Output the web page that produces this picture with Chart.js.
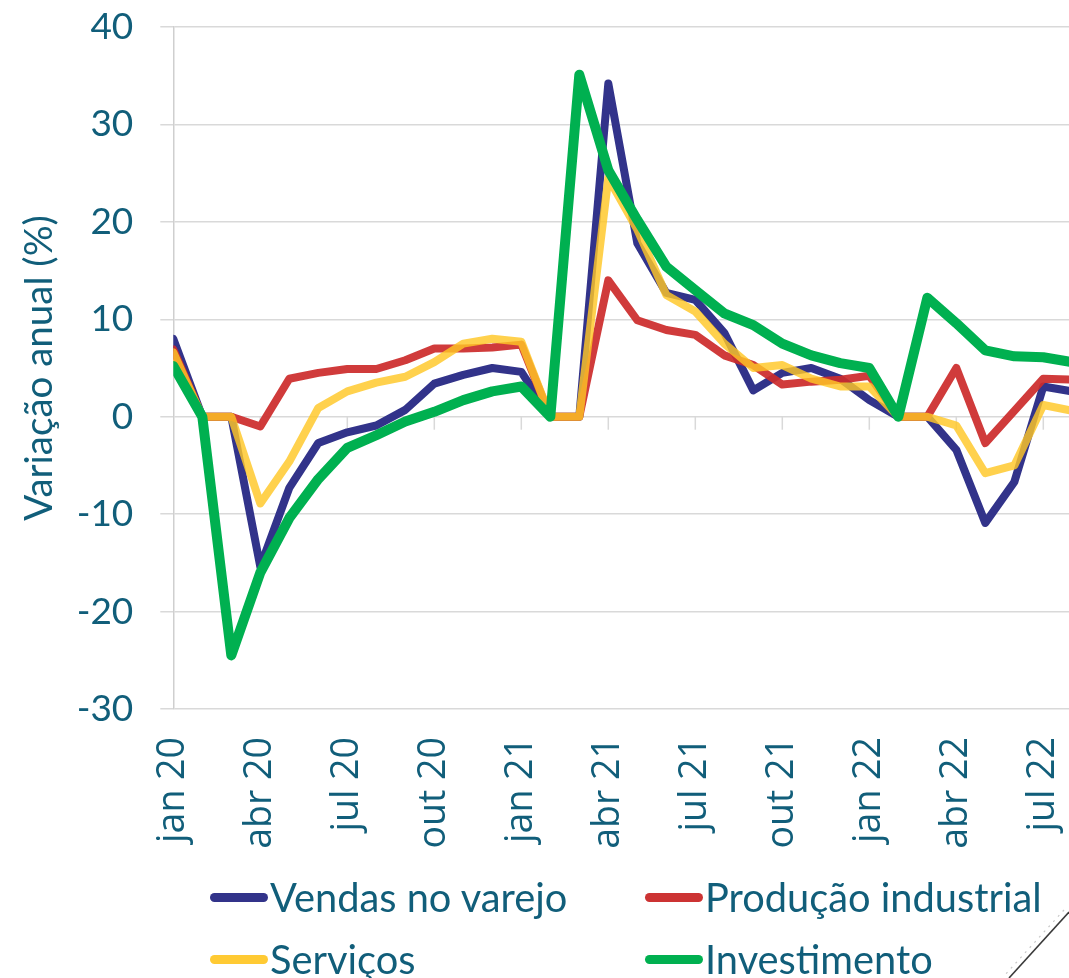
<!DOCTYPE html>
<html>
<head>
<meta charset="utf-8">
<script src="https://cdn.jsdelivr.net/npm/chart.js@4.4.1/dist/chart.umd.min.js"></script>
<style>
  html, body { margin: 0; padding: 0; background: #fff; overflow: hidden; }
  #wrap { position: relative; width: 1069px; height: 978px; overflow: hidden; }
  canvas { display: block; }
  .row { position: absolute; height: 40px; display: flex; align-items: center;
         font-family: Lato, "Open Sans", sans-serif; font-size: 39.8px; color: #115e7a;
         white-space: nowrap; line-height: 1; }
  .sw { display: inline-block; width: 58px; height: 9px; border-radius: 4.5px; margin-right: 2px; flex: none; }
  #deco { position: absolute; left: 990px; top: 900px; }
</style>
</head>
<body>
<div id="wrap">
  <canvas id="c" width="1069" height="978"></canvas>
  <div id="legend"></div>
  <svg id="deco" width="79" height="78" viewBox="0 0 79 78">
    <line x1="79" y1="12" x2="19" y2="78" stroke="#3a3a3a" stroke-width="1.6"/>
    <line x1="74" y1="10" x2="14" y2="76" stroke="#c8c8c8" stroke-width="1.2" stroke-dasharray="2 5"/>
  </svg>
</div>
<script>
// ---- data ----
const months = ['jan 20','fev 20','mar 20','abr 20','mai 20','jun 20','jul 20','ago 20','set 20','out 20','nov 20','dez 20',
                'jan 21','fev 21','mar 21','abr 21','mai 21','jun 21','jul 21','ago 21','set 21','out 21','nov 21','dez 21',
                'jan 22','fev 22','mar 22','abr 22','mai 22','jun 22','jul 22','ago 22'];
const vendas       = [8.0, 0, 0, -15.4, -7.3, -2.7, -1.6, -0.9, 0.7, 3.4, 4.3, 5.0, 4.6, 0, 0, 34.2, 17.8, 12.7, 12.0, 8.6, 2.7, 4.5, 5.0, 3.9, 1.7, 0, 0, -3.4, -10.9, -6.7, 3.1, 2.6];
const producao     = [6.9, 0, 0, -1.0, 3.9, 4.5, 4.9, 4.9, 5.8, 7.0, 7.0, 7.1, 7.4, 0, 0, 14.0, 9.9, 8.9, 8.4, 6.3, 5.3, 3.3, 3.6, 3.8, 4.2, 0, 0, 5.0, -2.7, 0.6, 3.9, 3.8];
const servicos     = [6.6, 0, 0, -8.9, -4.6, 0.9, 2.6, 3.5, 4.1, 5.6, 7.5, 8.0, 7.7, 0, 0, 24.5, 19.2, 12.5, 10.8, 7.5, 5.0, 5.3, 3.9, 3.1, 3.1, 0, 0, -0.9, -5.8, -5.0, 1.2, 0.6];
const investimento = [5.2, 0, -24.5, -16.0, -10.4, -6.4, -3.2, -1.9, -0.5, 0.5, 1.7, 2.6, 3.1, 0, 35.1, 25.3, 20.2, 15.4, 13.0, 10.6, 9.4, 7.5, 6.3, 5.5, 5.0, 0, 12.2, 9.6, 6.8, 6.2, 6.1, 5.6];
const seriesNames  = ['Vendas no varejo', 'Produção industrial', 'Serviços', 'Investimento'];
const yTicks       = [-30, -20, -10, 0, 10, 20, 30, 40];
const yTitle       = 'Variação anual (%)';

const colors = ['#32338a', 'rgba(204,44,44,0.93)', 'rgba(255,199,38,0.82)', '#00b050'];
const legendColors = ['#32338a', '#cc3333', '#ffca33', '#00b050'];
const widths = [8, 8, 8, 10];
const drawOrder = [3, 2, 1, 0];
const textColor = '#115e7a';
const gridColor = '#d9d9d9';

const allSeries = [vendas, producao, servicos, investimento];
const datasets = allSeries.map((arr, k) => ({
  label: seriesNames[k],
  data: arr.map((v, i) => ({x: i, y: v})),
  borderColor: colors[k],
  backgroundColor: colors[k],
  borderWidth: widths[k],
  pointRadius: 0,
  tension: 0,
  borderJoinStyle: 'round',
  borderCapStyle: 'round',
  order: drawOrder[k]
}));

// short tick marks hanging from the zero line (Excel-style category axis crossing at 0)
const zeroTicks = {
  id: 'zeroTicks',
  beforeDatasetsDraw(chart) {
    const xs = chart.scales.x, ys = chart.scales.y;
    const y0 = ys.getPixelForValue(0);
    const ctx = chart.ctx;
    ctx.save();
    ctx.strokeStyle = gridColor;
    ctx.lineWidth = 1.5;
    for (let i = 3; i < months.length; i += 3) {
      const px = xs.getPixelForValue(i);
      if (px > chart.chartArea.right) break;
      ctx.beginPath();
      ctx.moveTo(px, y0);
      ctx.lineTo(px, y0 + 13);
      ctx.stroke();
    }
    ctx.restore();
  }
};

Chart.defaults.font.family = 'Lato';

new Chart(document.getElementById('c'), {
  type: 'line',
  data: { datasets },
  plugins: [zeroTicks],
  options: {
    responsive: false,
    animation: false,
    devicePixelRatio: 1,
    layout: { padding: { top: 27, right: 0, bottom: 0, left: 0 } },
    plugins: { legend: { display: false }, tooltip: { enabled: false } },
    scales: {
      x: {
        type: 'linear',
        min: 0,
        max: 30.886,
        grid: { display: false, drawTicks: false },
        border: { display: false },
        ticks: {
          stepSize: 3,
          includeBounds: false,
          autoSkip: false,
          maxRotation: 90,
          minRotation: 90,
          padding: 28,
          color: textColor,
          font: { family: 'Open Sans', size: 37.5 },
          callback: (v) => (Number.isInteger(v) && v % 3 === 0) ? months[v] : ''
        },
        afterFit: (s) => { s.height = 269; s.paddingLeft = 0; s.paddingRight = 0; }
      },
      y: {
        min: yTicks[0],
        max: yTicks[yTicks.length - 1],
        afterBuildTicks: (s) => { s.ticks = yTicks.map(v => ({ value: v })); },
        grid: { color: gridColor, lineWidth: 1.5, tickLength: 13, drawTicks: true },
        border: { display: true, color: '#cfcfcf', width: 1.5 },
        ticks: {
          padding: 27,
          color: textColor,
          font: { family: 'Lato', size: 37 }
        },
        title: {
          display: true,
          text: yTitle,
          color: textColor,
          font: { family: 'Lato', size: 38.5 },
          padding: { top: 16, bottom: 0 }
        },
        afterFit: (s) => { s.width = 173.3; s.paddingTop = 0; s.paddingBottom = 0; }
      }
    }
  }
});

// two-column legend, as in the reference
const legendPos = [
  { left: 210, top: 877 }, { left: 645, top: 877 },
  { left: 210, top: 939 }, { left: 645, top: 939 }
];
const lg = document.getElementById('legend');
seriesNames.forEach((name, k) => {
  const row = document.createElement('div');
  row.className = 'row';
  row.style.left = legendPos[k].left + 'px';
  row.style.top = legendPos[k].top + 'px';
  const sw = document.createElement('span');
  sw.className = 'sw';
  sw.style.background = legendColors[k];
  row.appendChild(sw);
  row.appendChild(document.createTextNode(name));
  lg.appendChild(row);
});
</script>
</body>
</html>
